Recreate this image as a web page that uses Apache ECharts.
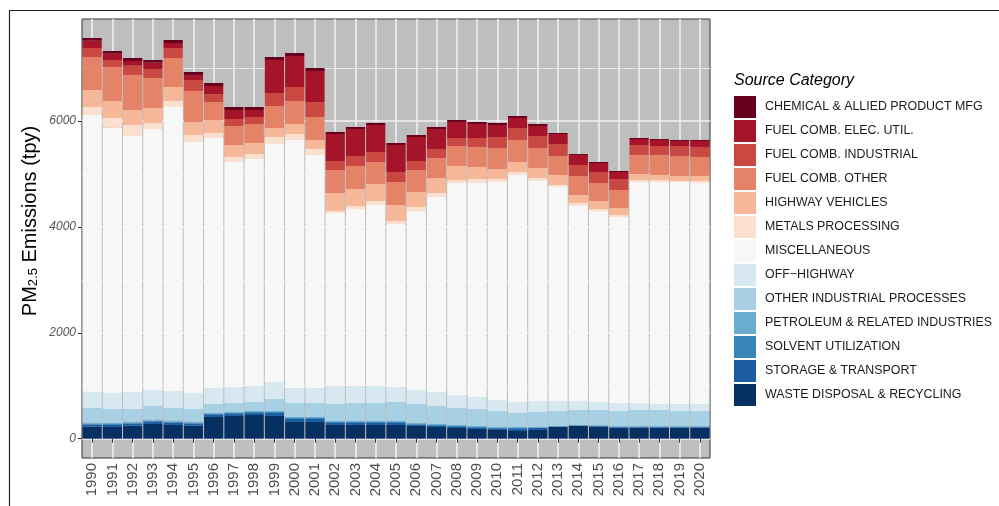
<!DOCTYPE html>
<html>
<head>
<meta charset="utf-8">
<script src="https://cdn.jsdelivr.net/npm/echarts@6/dist/echarts.min.js"></script>
<style>
  html, body { margin: 0; padding: 0; background: #fff; }
  #chart { width: 999px; height: 506px; }
</style>
</head>
<body>
<div id="chart"></div>
<script>
var years = [];
for (var y = 1990; y <= 2020; y++) years.push(String(y));

// PM2.5 emissions (tpy) by source category
var chemical   = [50,51,56,51,56,56,57,57,57,56,57,56,38,38,38,38,38,38,37,38,38,38,38,19,18,19,19,19,18,19,19];
var elecUtil   = [139,119,88,119,95,95,151,170,132,624,586,586,510,510,510,510,453,377,303,265,227,189,189,189,189,170,132,113,114,95,113];
var industrial = [170,132,176,170,189,208,151,132,132,245,263,283,170,188,189,189,170,170,151,169,207,226,226,227,209,208,208,188,169,189,189];
var combOther  = [623,642,662,567,548,585,340,359,359,416,435,434,435,436,416,435,416,379,377,378,397,416,378,359,359,340,340,361,379,378,360];
var highway    = [321,322,283,283,263,246,245,226,208,170,189,170,341,321,321,302,284,283,265,227,189,189,190,189,151,152,133,112,94,94,94];
var metals     = [151,183,208,114,114,132,95,95,94,132,113,113,37,57,76,57,76,76,57,76,57,57,56,38,57,38,37,38,38,19,38];
var misc       = [5233,5012,4836,4930,5365,4742,4722,4251,4289,4496,4685,4402,3268,3343,3419,3079,3380,3683,4005,4042,4118,4288,4156,4042,3683,3607,3514,4175,4194,4194,4175];
var offHighway = [302,302,321,302,321,302,303,302,302,321,284,284,340,321,321,283,265,264,245,227,208,207,208,189,170,151,151,132,113,132,132];
var otherInd   = [278,265,239,258,239,239,169,170,170,227,264,264,321,340,340,359,359,340,321,321,302,265,283,283,283,283,283,302,302,283,283];
var petroleum  = [19,18,19,19,19,19,19,18,18,18,19,19,19,19,19,19,15,19,19,19,19,19,9,6,6,13,13,13,13,13,13];
var solvent    = [19,19,19,19,19,19,19,19,19,19,19,19,19,19,19,19,16,19,19,19,19,19,10,6,6,12,12,12,12,12,12];
var storage    = [37,38,38,44,44,38,38,38,38,57,57,57,37,37,37,37,25,19,19,19,19,38,38,7,7,13,13,13,13,13,13];
var waste      = [227,221,246,278,259,246,410,429,448,429,315,315,259,259,259,259,240,221,202,183,164,145,164,221,240,221,202,202,202,202,202];

var categories = ['CHEMICAL & ALLIED PRODUCT MFG','FUEL COMB. ELEC. UTIL.','FUEL COMB. INDUSTRIAL',
  'FUEL COMB. OTHER','HIGHWAY VEHICLES','METALS PROCESSING','MISCELLANEOUS','OFF\u2212HIGHWAY',
  'OTHER INDUSTRIAL PROCESSES','PETROLEUM & RELATED INDUSTRIES','SOLVENT UTILIZATION',
  'STORAGE & TRANSPORT','WASTE DISPOSAL & RECYCLING'];
var values = [chemical, elecUtil, industrial, combOther, highway, metals, misc, offHighway,
  otherInd, petroleum, solvent, storage, waste];
var colors = ['#67001F','#A61429','#CA4842','#E58368','#F7B799','#FCE0CF','#F7F7F7',
  '#D7E8F1','#A7D0E4','#6BACD1','#3884BB','#1C5DA0','#053061'];

var majorTicks = [0, 2000, 4000, 6000];
var minorTicks = [1000, 3000, 5000, 7000];

// stack from the bottom: waste first, chemical last
var series = [];
for (var i = categories.length - 1; i >= 0; i--) {
  series.push({
    name: categories[i],
    type: 'bar',
    stack: 'total',
    barCategoryGap: '5%',
    data: values[i],
    itemStyle: { color: colors[i] },
    emphasis: { disabled: true }
  });
}

var font = 'Liberation Sans, Arial, sans-serif';
var chart = echarts.init(document.getElementById('chart'), null, { renderer: 'canvas' });
chart.setOption({
  animation: false,
  backgroundColor: '#ffffff',
  textStyle: { fontFamily: font },
  grid: {
    left: 82, top: 19, width: 628, height: 439,
    show: true, backgroundColor: '#BEBEBE', borderColor: '#333333', borderWidth: 1
  },
  graphic: [
    { type: 'rect', shape: { x: 9.5, y: 10.5, width: 1000, height: 600 },
      style: { fill: null, stroke: '#222', lineWidth: 1.2 }, silent: true, z: 100 },
    { type: 'text', left: 734, top: 73,
      style: { text: 'Source Category', fontSize: 16, fontStyle: 'italic',
        fontFamily: font, fill: '#000' } },
    // y axis title with subscript
    { type: 'text', x: 28, y: 221, rotation: Math.PI / 2,
      style: {
        text: '{a|PM}{b|2.5}{a| Emissions (tpy)}',
        align: 'center', verticalAlign: 'middle',
        fontFamily: font,
        rich: {
          a: { fontSize: 20, fill: '#000', lineHeight: 24, verticalAlign: 'bottom', fontFamily: font },
          b: { fontSize: 13, fill: '#000', lineHeight: 24, verticalAlign: 'bottom', fontFamily: font }
        }
      } }
  ],
  legend: {
    orient: 'vertical', left: 734, top: 96, padding: 0,
    itemWidth: 22, itemHeight: 22, itemGap: 2,
    icon: 'rect',
    data: categories,
    selectedMode: false,
    textStyle: { fontSize: 12.4, color: '#1a1a1a', padding: [0, 0, 0, 4] }
  },
  xAxis: {
    type: 'category',
    data: years,
    axisLine: { show: false },
    axisTick: { show: true, alignWithLabel: true, length: 4, lineStyle: { color: '#333' } },
    axisLabel: { rotate: 90, fontSize: 15, color: '#4d4d4d', margin: 5 },
    splitLine: { show: true, alignWithLabel: true, lineStyle: { color: '#F0F0F0', width: 1.5 } }
  },
  yAxis: [{
    type: 'value',
    min: -365, max: 7928,
    axisLine: { show: false },
    axisTick: { show: true, length: 4, customValues: majorTicks, lineStyle: { color: '#333' } },
    axisLabel: {
      customValues: majorTicks, fontSize: 12, fontStyle: 'italic', color: '#555', margin: 6,
      formatter: function (v) { return String(v); }
    },
    splitLine: { show: true, lineStyle: { color: '#F0F0F0', width: 1.5 } }
  }, {
    type: 'value',
    min: -365, max: 7928,
    position: 'left',
    axisLine: { show: false },
    axisTick: { show: false, customValues: minorTicks },
    axisLabel: { show: false },
    splitLine: { show: true, lineStyle: { color: '#E8E8E8', width: 1 } }
  }],
  series: series
});
</script>
</body>
</html>
